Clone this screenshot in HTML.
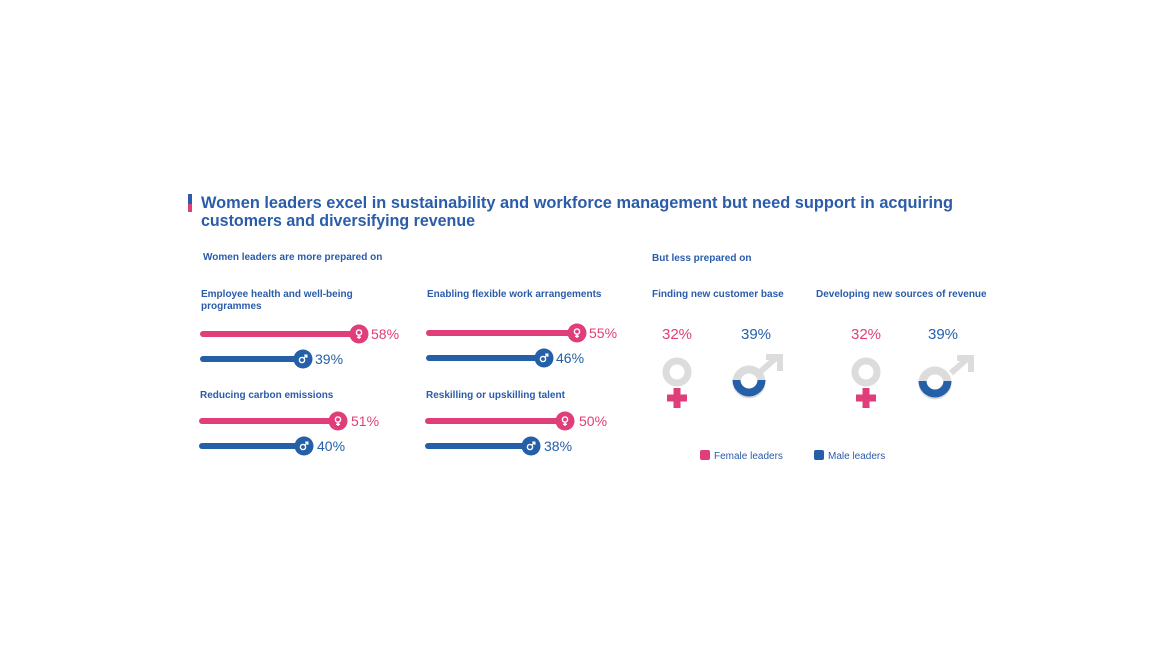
<!DOCTYPE html>
<html><head><style>
body{margin:0;background:#fff;}
svg text{font-family:"Liberation Sans",sans-serif;}
</style></head><body>
<svg width="1170" height="656" viewBox="0 0 1170 656" xmlns="http://www.w3.org/2000/svg">
<defs>
<g id="fs"><circle cx="0" cy="-1.5" r="2.6" fill="none" stroke="#fff" stroke-width="1.4"/><path d="M0 1.2V5M-2 3.3H2" stroke="#fff" stroke-width="1.4"/></g>
<g id="ms"><circle cx="-1" cy="1" r="2.6" fill="none" stroke="#fff" stroke-width="1.4"/><path d="M1 -1L3.5 -3.5M1.2 -3.8H3.8V-1.2" stroke="#fff" stroke-width="1.4" fill="none"/></g>
</defs>
<rect x="188" y="194" width="4" height="10" fill="#2a5caa"/><rect x="188" y="204" width="4" height="8" fill="#e03e7a"/>
<g fill="#2a5caa" font-weight="bold">
<text x="201" y="208" font-size="16.5" textLength="752" lengthAdjust="spacingAndGlyphs">Women leaders excel in sustainability and workforce management but need support in acquiring</text>
<text x="201" y="226" font-size="16.5" textLength="274" lengthAdjust="spacingAndGlyphs">customers and diversifying revenue</text>
<text x="203" y="260" font-size="10">Women leaders are more prepared on</text>
<text x="201" y="297" font-size="10">Employee health and well-being</text>
<text x="201" y="309" font-size="10">programmes</text>
<text x="427" y="297" font-size="10">Enabling flexible work arrangements</text>
<text x="200" y="398" font-size="10">Reducing carbon emissions</text>
<text x="426" y="398" font-size="10">Reskilling or upskilling talent</text>
<text x="652" y="261" font-size="10">But less prepared on</text>
<text x="652" y="297" font-size="10">Finding new customer base</text>
<text x="816" y="297" font-size="10">Developing new sources of revenue</text>
</g>
<g stroke-linecap="round" stroke-width="6">
<line x1="203" y1="334" x2="359" y2="334" stroke="#e03e7a"/>
<line x1="203" y1="359" x2="303" y2="359" stroke="#2360a8"/>
<line x1="429" y1="333" x2="577" y2="333" stroke="#e03e7a"/>
<line x1="429" y1="358" x2="544" y2="358" stroke="#2360a8"/>
<line x1="202" y1="421" x2="338" y2="421" stroke="#e03e7a"/>
<line x1="202" y1="446" x2="304" y2="446" stroke="#2360a8"/>
<line x1="428" y1="421" x2="565" y2="421" stroke="#e03e7a"/>
<line x1="428" y1="446" x2="531" y2="446" stroke="#2360a8"/>
</g>
<g>
<circle cx="359" cy="334" r="9.5" fill="#e03e7a"/><use href="#fs" x="359" y="334"/>
<circle cx="303" cy="359" r="9.5" fill="#2360a8"/><use href="#ms" x="303" y="359"/>
<circle cx="577" cy="333" r="9.5" fill="#e03e7a"/><use href="#fs" x="577" y="333"/>
<circle cx="544" cy="358" r="9.5" fill="#2360a8"/><use href="#ms" x="544" y="358"/>
<circle cx="338" cy="421" r="9.5" fill="#e03e7a"/><use href="#fs" x="338" y="421"/>
<circle cx="304" cy="446" r="9.5" fill="#2360a8"/><use href="#ms" x="304" y="446"/>
<circle cx="565" cy="421" r="9.5" fill="#e03e7a"/><use href="#fs" x="565" y="421"/>
<circle cx="531" cy="446" r="9.5" fill="#2360a8"/><use href="#ms" x="531" y="446"/>
</g>
<g font-size="14">
<text x="371" y="339" fill="#e03e7a">58%</text>
<text x="315" y="364" fill="#2360a8">39%</text>
<text x="589" y="338" fill="#e03e7a">55%</text>
<text x="556" y="363" fill="#2360a8">46%</text>
<text x="351" y="426" fill="#e03e7a">51%</text>
<text x="317" y="451" fill="#2360a8">40%</text>
<text x="579" y="426" fill="#e03e7a">50%</text>
<text x="544" y="451" fill="#2360a8">38%</text>
<g font-size="15" text-anchor="middle">
<text x="677" y="339" fill="#e03e7a">32%</text>
<text x="756" y="339" fill="#2360a8">39%</text>
<text x="866" y="339" fill="#e03e7a">32%</text>
<text x="943" y="339" fill="#2360a8">39%</text>
</g>
</g>
<g>
<circle cx="677" cy="372" r="11" fill="none" stroke="#dcdcdc" stroke-width="7"/>
<path d="M677 388V408M667 398H687" stroke="#e03e7a" stroke-width="7"/>
</g>
<g>
<circle cx="866" cy="372" r="11" fill="none" stroke="#dcdcdc" stroke-width="7"/>
<path d="M866 388V408M856 398H876" stroke="#e03e7a" stroke-width="7"/>
</g>
<g>
<path d="M760 372L776 358M766 357H780V371" stroke="#dcdcdc" stroke-width="6" fill="none"/>
<circle cx="749" cy="382" r="12.5" fill="none" stroke="#dcdcdc" stroke-width="8"/>
<path d="M732.5 380A16.5 16.5 0 0 0 765.5 380H757.5A8.5 8.5 0 0 1 740.5 380Z" fill="#2360a8"/>
</g>
<g>
<path d="M951 373L967 359M957 358H971V372" stroke="#dcdcdc" stroke-width="6" fill="none"/>
<circle cx="935" cy="383" r="12.5" fill="none" stroke="#dcdcdc" stroke-width="8"/>
<path d="M918.5 381A16.5 16.5 0 0 0 951.5 381H943.5A8.5 8.5 0 0 1 926.5 381Z" fill="#2360a8"/>
</g>
<rect x="700" y="450" width="10" height="10" rx="2" fill="#e03e7a"/>
<text x="714" y="459" font-size="10" fill="#2a5caa">Female leaders</text>
<rect x="814" y="450" width="10" height="10" rx="2" fill="#2360a8"/>
<text x="828" y="459" font-size="10" fill="#2a5caa">Male leaders</text>
</svg>
</body></html>
